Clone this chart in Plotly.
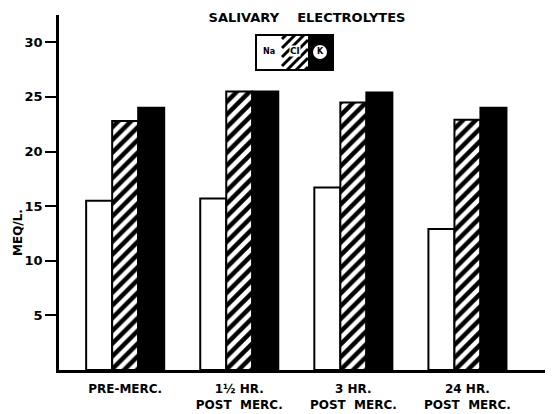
import plotly.graph_objects as go

categories = ["PRE-MERC.", "1½ HR.<br>POST  MERC.", "3 HR.<br>POST  MERC.", "24 HR.<br>POST  MERC."]
cat_pos = [0, 1, 2, 3]
na_values = [15.5, 15.7, 16.7, 12.9]
cl_values = [22.8, 25.5, 24.5, 22.9]
k_values = [24.0, 25.5, 25.4, 24.0]
y_ticks = [5, 10, 15, 20, 25, 30]

# page body margin offset (8px) compensation
OFF = 8
WIN_W, WIN_H = 553, 414
W, H = WIN_W - OFF, WIN_H - OFF
PLOT_L, PLOT_T, PLOT_B = 59, 15, 370  # window pixels
L, T, R = PLOT_L - OFF, PLOT_T - OFF, 0
B = H - (PLOT_B - OFF)
FONT = "DejaVu Sans"

def px(x):
    return (x - PLOT_L) / (WIN_W - PLOT_L)

def py(y):
    return (PLOT_B - y) / (PLOT_B - PLOT_T)

fig = go.Figure()
line = dict(color="black", width=2)
fig.add_trace(go.Bar(x=cat_pos, y=na_values, name="Na",
                     marker=dict(color="white", line=line)))
fig.add_trace(go.Bar(x=cat_pos, y=cl_values, name="Cl",
                     marker=dict(color="white", line=line,
                                 pattern=dict(shape="/", size=9, solidity=0.5,
                                              fgcolor="black", fgopacity=1,
                                              bgcolor="white"))))
fig.add_trace(go.Bar(x=cat_pos, y=k_values, name="K",
                     marker=dict(color="black", line=line)))

shapes = []
lx0, lx1, lx2, lx3 = 256, 282, 308, 333
ly0, ly1 = 35, 70
shapes.append(dict(type="rect", xref="paper", yref="paper", x0=px(lx0), x1=px(lx1),
                   y0=py(ly1), y1=py(ly0), fillcolor="white", line=dict(width=0)))
shapes.append(dict(type="rect", xref="paper", yref="paper", x0=px(lx2), x1=px(lx3),
                   y0=py(ly1), y1=py(ly0), fillcolor="black", line=dict(width=0)))
path = ""
c = lx1 + ly0 + 4
while c < lx2 + ly1:
    pts = []
    for xx in (lx1, lx2):
        yy = c - xx
        if ly0 <= yy <= ly1:
            pts.append((xx, yy))
    for yy in (ly0, ly1):
        xx = c - yy
        if lx1 <= xx <= lx2:
            pts.append((xx, yy))
    pts = sorted(set(pts))
    if len(pts) >= 2:
        (ax, ay), (bx, by) = pts[0], pts[-1]
        path += f"M{px(ax)},{py(ay)} L{px(bx)},{py(by)} "
    c += 9
shapes.append(dict(type="path", xref="paper", yref="paper", path=path,
                   line=dict(color="black", width=3)))
shapes.append(dict(type="rect", xref="paper", yref="paper", x0=px(lx0), x1=px(lx3),
                   y0=py(ly1), y1=py(ly0), line=dict(color="black", width=2)))
shapes.append(dict(type="circle", xref="paper", yref="paper",
                   x0=px(313), x1=px(327), y0=py(59), y1=py(45),
                   fillcolor="white", line=dict(width=0)))

def ann(text, x, y, size, **kw):
    d = dict(text=text, x=px(x), y=py(y), xref="paper", yref="paper",
             xanchor="center", yanchor="middle", showarrow=False,
             font=dict(family=FONT, size=size, color="black"))
    d.update(kw)
    return d

annotations = [
    ann("<b>Na</b>", 269, 52, 8),
    ann("<b>Cl</b>", 295, 51, 9, bgcolor="white", borderpad=0),
    ann("<b>K</b>", 320, 52, 8),
    ann("<b>MEQ/L.</b>", 18, 233, 12, textangle=-90),
]

fig.update_layout(
    width=W, height=H,
    margin=dict(l=L, r=R, t=T, b=B),
    paper_bgcolor="white", plot_bgcolor="white",
    barmode="group", bargap=0.316, bargroupgap=0,
    showlegend=False,
    title=dict(text="<b>SALIVARY&nbsp;&nbsp;&nbsp;&nbsp;ELECTROLYTES</b>",
               x=(307 - OFF) / W, xanchor="center", y=1 - (17 - OFF) / H, yanchor="middle",
               font=dict(family=FONT, size=13, color="black")),
    shapes=shapes,
    annotations=annotations,
    font=dict(family=FONT, color="black"),
)
fig.update_xaxes(range=[-0.58, 3.75], tickvals=cat_pos, ticktext=categories,
                 showline=True, linecolor="black", linewidth=2.5, ticks="",
                 showgrid=False, zeroline=False, ticklabelstandoff=6,
                 tickfont=dict(family=FONT, size=12, color="black", weight="bold"))
fig.update_yaxes(range=[0, 32.5], tickvals=y_ticks, ticktext=[str(v) for v in y_ticks],
                 showline=True, linecolor="black", linewidth=2.5,
                 ticks="outside", ticklen=11, tickwidth=2, tickcolor="black",
                 showgrid=False, zeroline=False,
                 tickfont=dict(family=FONT, size=13, color="black", weight="bold"))

fig.write_html("out.html")
